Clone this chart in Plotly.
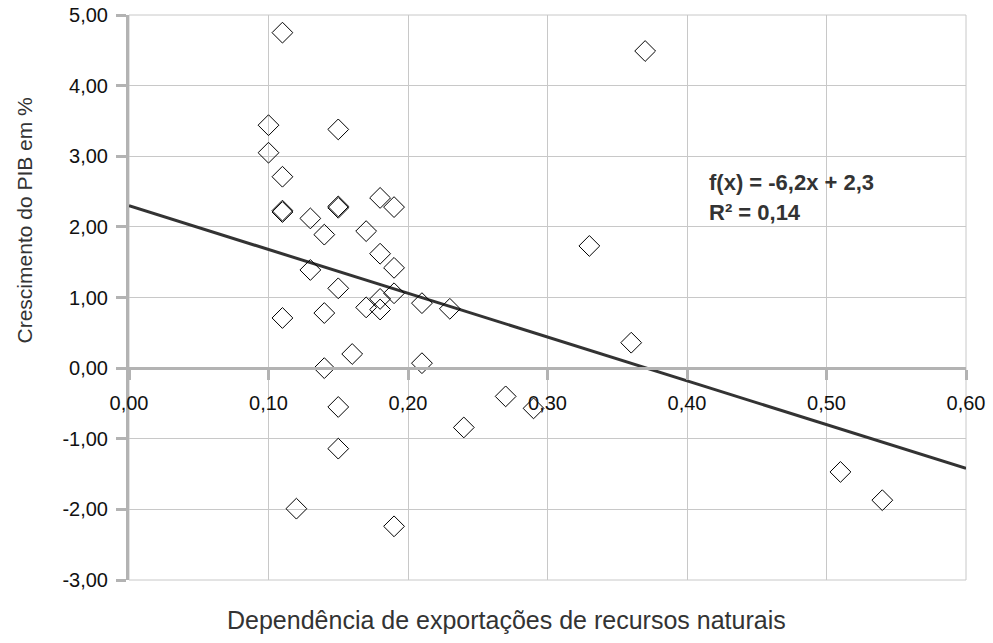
import plotly.graph_objects as go

# Data
export_dependence = [0.11, 0.10, 0.15, 0.10, 0.11, 0.11, 0.11, 0.15, 0.15, 0.18,
                     0.19, 0.13, 0.14, 0.17, 0.18, 0.19, 0.13, 0.15, 0.19, 0.18,
                     0.18, 0.17, 0.21, 0.23, 0.11, 0.14, 0.16, 0.21, 0.14, 0.15,
                     0.15, 0.12, 0.19, 0.36, 0.27, 0.29, 0.24, 0.51, 0.54, 0.37,
                     0.33]
gdp_growth = [4.75, 3.44, 3.38, 3.05, 2.71, 2.23, 2.21, 2.29, 2.27, 2.41,
              2.28, 2.12, 1.89, 1.94, 1.62, 1.42, 1.39, 1.13, 1.06, 0.98,
              0.83, 0.86, 0.92, 0.84, 0.71, 0.78, 0.20, 0.07, 0.00, -0.55,
              -1.14, -1.99, -2.24, 0.36, -0.40, -0.57, -0.84, -1.47, -1.87, 4.49,
              1.73]

trend_slope = -6.2
trend_intercept = 2.3
trend_x = [0.0, 0.6]

x_tickvals = [0.0, 0.1, 0.2, 0.3, 0.4, 0.5, 0.6]
x_ticktext = ["0,00", "0,10", "0,20", "0,30", "0,40", "0,50", "0,60"]
y_tickvals = [-3, -2, -1, 0, 1, 2, 3, 4, 5]
y_ticktext = ["-3,00", "-2,00", "-1,00", "0,00", "1,00", "2,00", "3,00", "4,00", "5,00"]

x_title = "Dependência de exportações de recursos naturais"
y_title = "Crescimento do PIB em %"
eq_text = "f(x) = -6,2x + 2,3"
r2_text = "R² = 0,14"

FONT = "Liberation Sans, Arial, sans-serif"
AXIS_GRAY = "#b3b3b3"
GRID_GRAY = "#c8c8c8"

trend_y = [trend_slope * x + trend_intercept for x in trend_x]

fig = go.Figure()
fig.add_trace(go.Scatter(
    x=trend_x, y=trend_y, mode="lines",
    line=dict(color="#333333", width=3),
    showlegend=False, hoverinfo="skip", cliponaxis=False,
))
fig.add_trace(go.Scatter(
    x=export_dependence, y=gdp_growth, mode="markers",
    marker=dict(symbol="diamond-open", size=16, color="#000000",
                line=dict(width=1, color="#000000")),
    showlegend=False,
))

fig.update_layout(
    width=993, height=643,
    margin=dict(l=129, r=27, t=15, b=63, autoexpand=False),
    paper_bgcolor="white", plot_bgcolor="white",
    font=dict(family=FONT, size=20, color="#000000"),
    xaxis=dict(
        range=[0, 0.6], tickvals=x_tickvals, ticktext=x_ticktext,
        anchor="free", position=0.375, automargin=False,
        ticklabeloverflow="allow",
        showline=True, linecolor=AXIS_GRAY, linewidth=3,
        ticks="outside", ticklen=10, tickwidth=3, tickcolor=AXIS_GRAY,
        ticklabelstandoff=6,
        showgrid=True, gridcolor=GRID_GRAY, gridwidth=1,
        zeroline=False,
        tickfont=dict(family=FONT, size=20, color="#111111"),
    ),
    yaxis=dict(
        range=[-3, 5], tickvals=y_tickvals, ticktext=y_ticktext,
        automargin=False, ticklabeloverflow="allow",
        showline=True, linecolor=AXIS_GRAY, linewidth=3,
        ticks="outside", ticklen=10, tickwidth=3, tickcolor=AXIS_GRAY,
        ticklabelstandoff=4,
        showgrid=True, gridcolor=GRID_GRAY, gridwidth=1,
        zeroline=False,
        tickfont=dict(family=FONT, size=20, color="#111111"),
    ),
    shapes=[dict(type="rect", xref="x domain", yref="y domain",
                 x0=0, x1=1, y0=0, y1=1,
                 line=dict(color=GRID_GRAY, width=1), layer="below")],
    annotations=[
        dict(text=x_title, xref="paper", yref="paper", x=0.451, y=-0.071,
             xanchor="center", yanchor="middle", showarrow=False,
             font=dict(family=FONT, size=25, color="#333333")),
        dict(text=y_title, xref="paper", yref="paper", x=-0.125, y=0.637,
             xanchor="center", yanchor="middle", textangle=-90, showarrow=False,
             font=dict(family=FONT, size=21, color="#333333")),
        dict(text="<b>" + eq_text + "</b>", xref="paper", yref="y", x=0.69, y=2.63,
             xanchor="left", yanchor="middle", showarrow=False,
             font=dict(family=FONT, size=22, color="#333333")),
        dict(text="<b>" + r2_text + "</b>", xref="paper", yref="y", x=0.69, y=2.21,
             xanchor="left", yanchor="middle", showarrow=False,
             font=dict(family=FONT, size=22, color="#333333")),
    ],
)

fig.write_html(
    "out.html",
    config={"displayModeBar": False},
    post_script="document.body.style.margin='0';document.body.style.overflow='hidden';",
)
